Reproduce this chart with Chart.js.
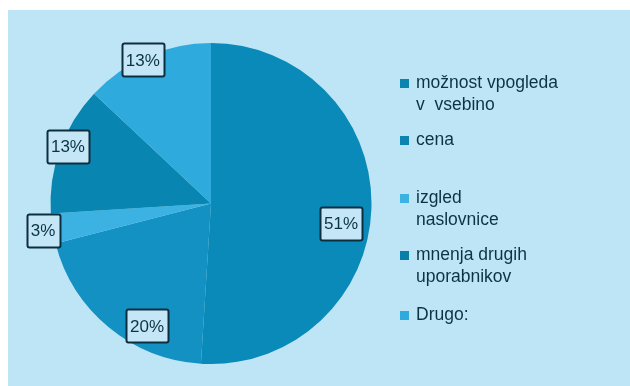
<!DOCTYPE html>
<html>
<head>
<meta charset="utf-8">
<script src="https://cdn.jsdelivr.net/npm/chart.js@4/dist/chart.umd.min.js"></script>
<style>
  html, body { margin: 0; padding: 0; background: #ffffff; }
  #wrap { position: relative; width: 630px; height: 386px; }
  canvas { display: block; }
</style>
</head>
<body>
<div id="wrap"><canvas id="c" width="630" height="386"></canvas></div>
<script>
// ---- data ----
const categories = [
  ["možnost vpogleda", "v  vsebino"],
  ["cena"],
  ["izgled", "naslovnice"],
  ["mnenja drugih", "uporabnikov"],
  ["Drugo:"]
];
const values = [51, 20, 3, 13, 13];
const valueLabels = ["51%", "20%", "3%", "13%", "13%"];

// ---- style ----
const sliceColors = ["#0a8ab9", "#1391c2", "#3bb2e2", "#0985b1", "#2faadd"];
const legendSwatch = ["#0b84b0", "#0b84b0", "#3bb2e2", "#0a7ea8", "#2faadd"];
const textColor = "#0c3345";
const bgColor = "#bee5f5";
// label placement relative to slice: angle shift (deg), radius factor
const labelAngleShift = [7, -12, 0, 2, -2];
const labelRadiusFactor = [0.82, 0.86, 1.06, 0.96, 0.99];
// legend line positions (y of first line of each item)
const legendY = [83, 140, 198, 255, 315];
const legendLineGap = 22;

const bgPlugin = {
  id: 'bg',
  beforeDraw(chart) {
    const ctx = chart.ctx;
    ctx.save();
    ctx.fillStyle = '#ffffff';
    ctx.fillRect(0, 0, chart.width, chart.height);
    ctx.fillStyle = bgColor;
    ctx.fillRect(8, 10, chart.width - 8, chart.height - 10);
    ctx.restore();
  }
};

const labelPlugin = {
  id: 'boxLabels',
  afterDatasetsDraw(chart) {
    const ctx = chart.ctx;
    const meta = chart.getDatasetMeta(0);
    ctx.save();
    ctx.font = '17px "Liberation Sans", Arial, sans-serif';
    ctx.textAlign = 'center';
    ctx.textBaseline = 'middle';
    meta.data.forEach((arc, i) => {
      const p = arc.getProps(['x', 'y', 'startAngle', 'endAngle', 'outerRadius'], true);
      const mid = (p.startAngle + p.endAngle) / 2 + labelAngleShift[i] * Math.PI / 180;
      const r = p.outerRadius * labelRadiusFactor[i];
      const cx = p.x + Math.cos(mid) * r;
      const cy = p.y + Math.sin(mid) * r;
      const txt = valueLabels[i];
      const w = ctx.measureText(txt).width + 8;
      const h = 33;
      ctx.fillStyle = '#c4e6f6';
      ctx.strokeStyle = '#0c2f40';
      ctx.lineWidth = 2;
      ctx.beginPath();
      ctx.roundRect(Math.round(cx - w / 2) + 0.5, Math.round(cy - h / 2) + 0.5, Math.round(w), h, 2);
      ctx.fill();
      ctx.stroke();
      ctx.fillStyle = textColor;
      ctx.fillText(txt, cx, cy + 1);
    });
    ctx.restore();
  }
};

const legendPlugin = {
  id: 'sideLegend',
  afterDraw(chart) {
    const ctx = chart.ctx;
    ctx.save();
    ctx.font = '17.5px "Liberation Sans", Arial, sans-serif';
    ctx.textBaseline = 'middle';
    ctx.textAlign = 'left';
    chart.data.labels.forEach((lab, i) => {
      const y = legendY[i];
      ctx.fillStyle = legendSwatch[i];
      ctx.fillRect(400, y - 4, 9, 9);
      ctx.fillStyle = textColor;
      const lines = Array.isArray(lab) ? lab : [lab];
      lines.forEach((ln, j) => {
        ctx.fillText(ln, 416, y + j * legendLineGap);
      });
    });
    ctx.restore();
  }
};

new Chart(document.getElementById('c'), {
  type: 'pie',
  data: {
    labels: categories,
    datasets: [{
      data: values,
      backgroundColor: sliceColors,
      borderWidth: 0
    }]
  },
  options: {
    responsive: false,
    animation: false,
    layout: { padding: { left: 50, right: 258, top: 43, bottom: 22 } },
    plugins: {
      legend: { display: false },
      tooltip: { enabled: false }
    }
  },
  plugins: [bgPlugin, labelPlugin, legendPlugin]
});
</script>
</body>
</html>
